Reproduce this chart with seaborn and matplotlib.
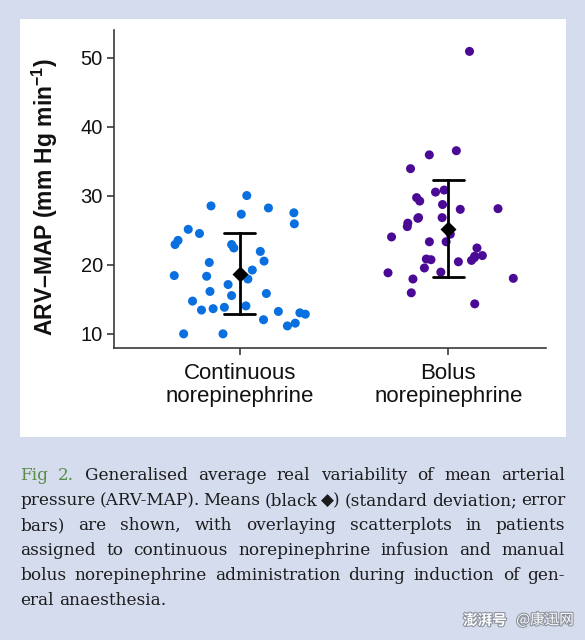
import numpy as np
import pandas as pd
import seaborn as sns
import matplotlib.pyplot as plt
from matplotlib.patches import Rectangle
import matplotlib.patheffects as pe

# values (mm Hg min-1)
groups = ["Continuous\nnorepinephrine", "Bolus\nnorepinephrine"]
continuous = [30.0, 28.2, 28.5, 27.3, 27.5, 25.9, 25.1, 24.5, 23.5, 22.9, 22.9, 22.4,
              21.9, 20.3, 20.5, 19.2, 18.4, 17.9, 18.3, 17.1, 16.1, 15.8, 15.5, 14.7,
              14.0, 13.2, 13.6, 13.4, 13.8, 13.0, 12.8, 12.0, 11.5, 11.1, 9.95, 9.95]
bolus = [50.9, 36.5, 35.9, 33.9, 30.5, 30.8, 29.7, 29.2, 28.7, 28.1, 28.0, 26.8,
         26.7, 26.8, 26.0, 25.5, 24.4, 24.0, 23.3, 23.3, 22.4, 21.3, 21.2, 21.0,
         20.7, 20.6, 20.8, 20.4, 19.5, 18.9, 18.8, 17.9, 18.0, 15.9, 14.3]
yticks = [10, 20, 30, 40, 50]
colors = ["#0a6fdf", "#4b0a96"]

caption = [
    [("Fig", "#5a8c46"), ("2.", "#5a8c46")] + [(w, "#1c1c1c") for w in "Generalised average real variability of mean arterial".split()],
    [(w, "#1c1c1c") for w in "pressure (ARV-MAP). Means (black \u25c6) (standard deviation; error".split()],
    [(w, "#1c1c1c") for w in "bars) are shown, with overlaying scatterplots in patients".split()],
    [(w, "#1c1c1c") for w in "assigned to continuous norepinephrine infusion and manual".split()],
    [(w, "#1c1c1c") for w in "bolus norepinephrine administration during induction of gen-".split()],
    [(w, "#1c1c1c") for w in "eral anaesthesia.".split()],
]

df = pd.DataFrame({
    "group": [groups[0]] * len(continuous) + [groups[1]] * len(bolus),
    "arv": continuous + bolus,
})

sns.set_style("ticks")
plt.rcParams["font.family"] = ["Liberation Sans", "DejaVu Sans"]
plt.rcParams["mathtext.fontset"] = "custom"
plt.rcParams["mathtext.bf"] = "Liberation Sans:bold"

W, H = 585, 640
fig = plt.figure(figsize=(W / 100, H / 100), dpi=100, facecolor="#d4dcee")
fig.patches.append(Rectangle((20 / W, 1 - 437 / H), 546 / W, 418 / H, transform=fig.transFigure,
                             facecolor="white", edgecolor="none", zorder=-10))

ax = fig.add_axes([114 / W, 1 - 348 / H, 432 / W, 318 / H])

np.random.seed(3)
sns.stripplot(data=df, x="group", y="arv", hue="group", palette=colors, jitter=0.33,
              size=6.5, linewidth=0, legend=False, ax=ax, zorder=2)
sns.pointplot(data=df, x="group", y="arv", errorbar="sd", linestyle="none", marker="D",
              markersize=6.5, color="black", capsize=0.15, err_kws={"linewidth": 2},
              ax=ax, zorder=3)

ax.set_xlim(-0.603, 1.468)
ax.set_ylim(7.9, 54)
ax.set_yticks(yticks)
sns.despine(ax=ax)
for s in ["left", "bottom"]:
    ax.spines[s].set_color("#3a3a3a")
    ax.spines[s].set_linewidth(1.2)
ax.tick_params(axis="both", length=5, width=1.2, color="#3a3a3a", labelcolor="#111111")
ax.tick_params(axis="y", labelsize=14.5, pad=3)
ax.tick_params(axis="x", labelsize=16, pad=6)
for t in ax.get_xticklabels():
    t.set_linespacing(1.1)
ax.set_xlabel("")
ax.set_ylabel("ARV\u2013MAP (mm Hg min$\\mathbf{^{-1}}$)",
              fontsize=16.5, fontweight="bold", color="#111111")
ax.yaxis.set_label_coords(-0.125, 0.475)

# justified caption under the panel
renderer = fig.canvas.get_renderer()
left, right = 20, 565
for i, line in enumerate(caption):
    y = 1 - (480 + 25 * i) / H
    texts = [fig.text(0, y, w, color=c, fontsize=12.2, va="baseline",
                      family=["DejaVu Serif", "DejaVu Sans"]) for w, c in line]
    widths = [t.get_window_extent(renderer).width for t in texts]
    if i < len(caption) - 1:
        gap = (right - left - sum(widths)) / (len(texts) - 1)
    else:
        gap = 5.5
    x = left
    for t, w in zip(texts, widths):
        t.set_x(x / W)
        x += w + gap

# watermark
stroke = [pe.withStroke(linewidth=1.6, foreground="#8d939f")]
fig.text(507 / W, 1 - 620 / H, "澎湃号", ha="right", va="center", fontsize=10.5, color="white",
         fontweight="bold", style="italic", family=["Noto Sans CJK SC"], path_effects=stroke)
fig.text(574 / W, 1 - 620 / H, "@康迅网", ha="right", va="center", fontsize=10.5, color="white",
         family=["Noto Sans CJK SC"], path_effects=stroke)

fig.savefig("out.png", dpi=100, facecolor=fig.get_facecolor())
